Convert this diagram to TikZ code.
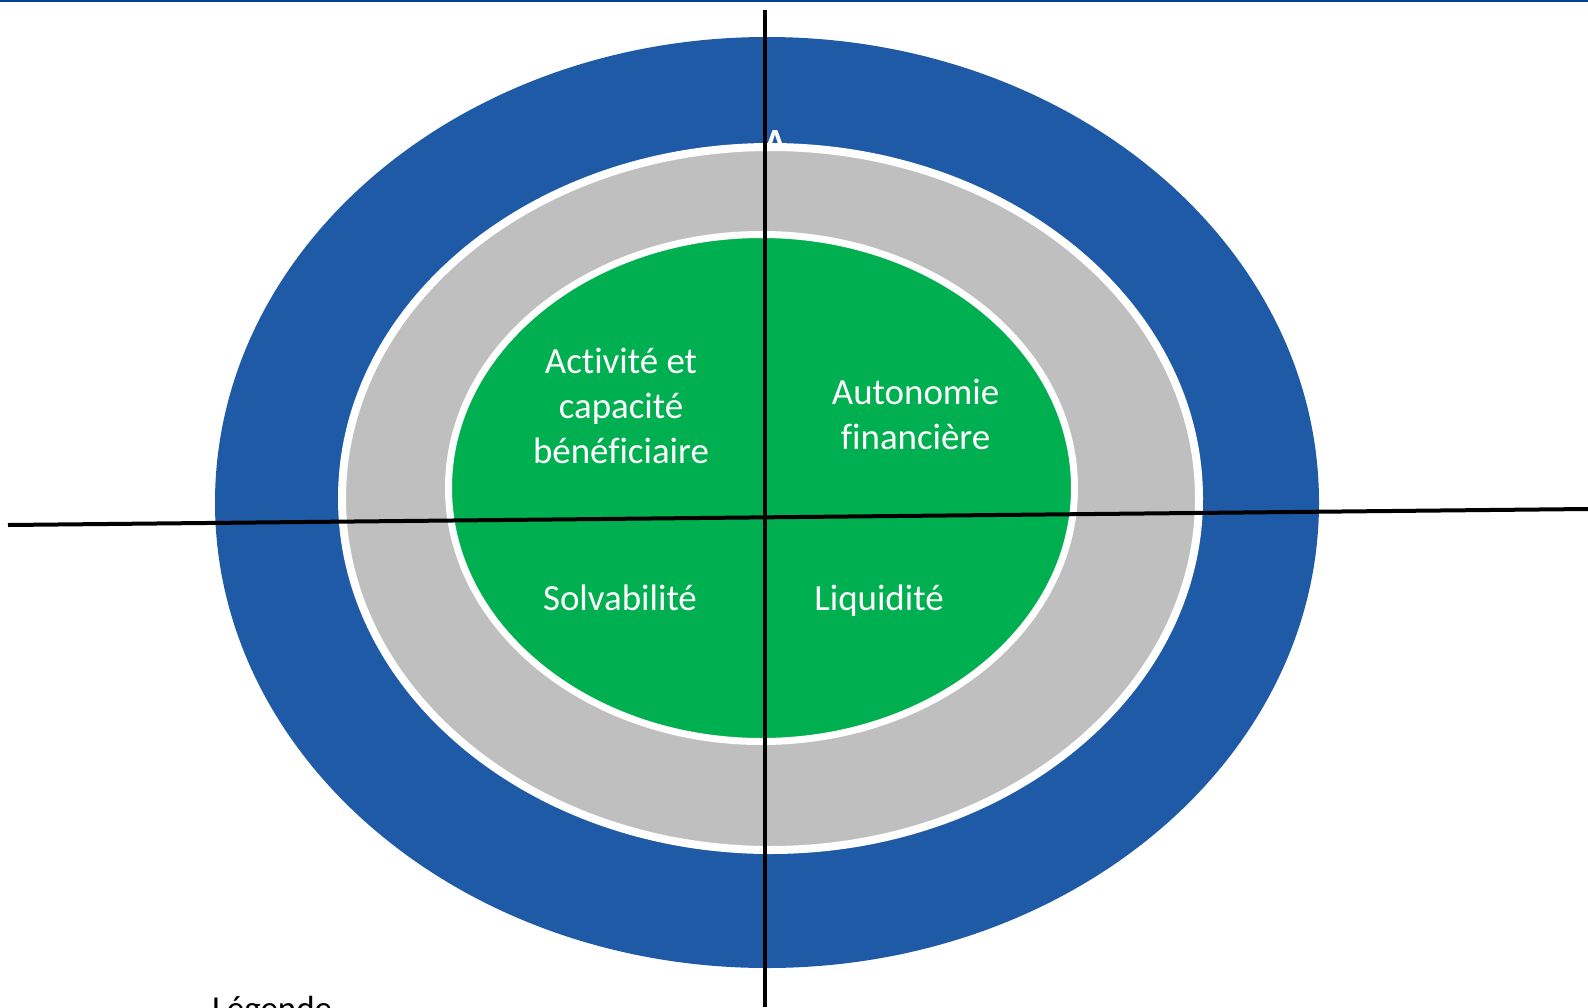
\documentclass[tikz,border=0pt]{standalone}
\usepackage{fontspec}
\setmainfont[Ligatures=NoCommon]{Carlito}
\usepackage{xcolor}
\usepackage{tikz}
\usetikzlibrary{shapes.geometric}

\definecolor{ringblue}{RGB}{31,90,166}
\definecolor{ringgray}{RGB}{191,191,191}
\definecolor{coregreen}{RGB}{0,176,80}
\definecolor{topblue}{RGB}{0,64,152}

\begin{document}
\begin{tikzpicture}[
  x=1pt,y=-1pt,
  ring/.style={ellipse,inner sep=0pt,outer sep=0pt},
  qlabel/.style={align=center,inner sep=0pt,text=white,font=\fontsize{36.9pt}{45pt}\selectfont},
  axis/.style={line width=4pt,black},
]
\clip (0,0) rectangle (1588,1007);
\fill[white] (0,0) rectangle (1588,1007);

% top rule
\coordinate (tl) at (0,1);
\coordinate (tr) at (1588,1);
\draw[topblue,line width=2.5pt] (tl) -- (tr);

% rings
\node[ring,fill=ringblue,minimum width=1104pt,minimum height=931pt] (outer) at (767,502.5) {};
\node[qlabel,anchor=north,font=\fontsize{36.9pt}{45pt}\selectfont\bfseries] (hidden) at (775,130) {A};
\node[ring,fill=ringgray,draw=white,line width=8pt,minimum width=857pt,minimum height=703pt] (middle) at (770.5,498.5) {};
\node[ring,fill=coregreen,draw=white,line width=7pt,minimum width=626pt,minimum height=507pt] (inner) at (761.5,488) {};

% quadrant labels
\node[qlabel] (activite) at (621,406) {Activité et\\capacité\\bénéficiaire};
\node[qlabel] (autonomie) at (915.6,414.5) {Autonomie\\financière};
\node[qlabel,anchor=base] (solva) at (620,610.5) {Solvabilité};
\node[qlabel,anchor=base] (liqui) at (879,610.5) {Liquidité};

% axes
\coordinate (hl) at (8,525);
\coordinate (hr) at (1588,509);
\coordinate (vt) at (765,10);
\coordinate (vb) at (765,1007);
\draw[axis] (hl) -- (hr);
\draw[axis] (vt) -- (vb);

\node[qlabel,text=black,anchor=base west,font=\fontsize{35pt}{42pt}\selectfont] (legende) at (212,1020) {Légende};
\end{tikzpicture}
\end{document}
